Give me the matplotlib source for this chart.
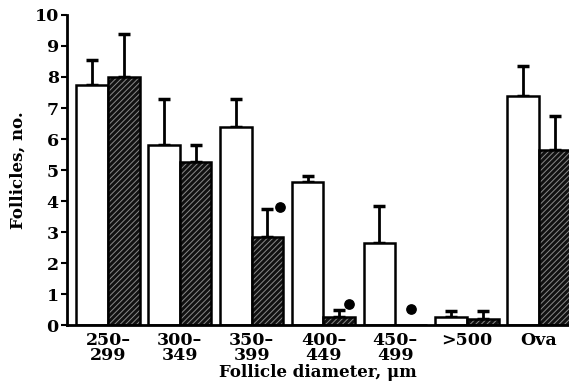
import matplotlib
matplotlib.use("Agg")
import matplotlib.pyplot as plt
import numpy as np

categories = ["250–\n299", "300–\n349", "350–\n399", "400–\n449", "450–\n499", ">500", "Ova"]
control = [7.75, 5.8, 6.4, 4.6, 2.65, 0.25, 7.4]
control_err = [0.8, 1.5, 0.9, 0.2, 1.2, 0.2, 0.95]
treated = [8.0, 5.25, 2.85, 0.25, 0.0, 0.2, 5.65]
treated_err = [1.4, 0.55, 0.9, 0.25, 0.0, 0.25, 1.1]
# significance dots (group index, height)
sig_groups = [2, 3, 4]
sig_heights = [3.8, 0.68, 0.52]

plt.rcParams["font.family"] = ["DejaVu Serif"]
plt.rcParams["font.weight"] = "bold"
plt.rcParams["hatch.linewidth"] = 0.7

fig = plt.figure(figsize=(5.69, 3.83), dpi=100)
ax = fig.add_axes([0.118, 0.151, 0.882, 0.810])

x = np.arange(len(categories))
w = 0.44

ax.bar(x - w / 2, control, w, color="white", edgecolor="black", linewidth=1.8, zorder=2)
ax.bar(x + w / 2, treated, w, color="#111111", edgecolor="#8a8a8a", hatch="//////",
       linewidth=0, zorder=2)
ax.bar(x + w / 2, treated, w, color="none", edgecolor="black", linewidth=1.8, zorder=3)

ax.errorbar(x - w / 2, control, yerr=[np.zeros(len(x)), control_err], fmt="none",
            ecolor="black", elinewidth=2, capsize=4, capthick=2.5, zorder=1)
has_err = np.array(treated_err) > 0
ax.errorbar((x + w / 2)[has_err], np.array(treated)[has_err],
            yerr=[np.zeros(has_err.sum()), np.array(treated_err)[has_err]], fmt="none",
            ecolor="black", elinewidth=2, capsize=4, capthick=2.5, zorder=1)

offsets = [0.17, 0.14, 0.0]
ax.scatter(np.array(sig_groups) + w / 2 + np.array(offsets), sig_heights, s=45,
           color="black", zorder=4)

ax.set_xlim(-0.57, 6.42)
ax.set_ylim(0, 10)
ax.set_yticks(range(11))
ax.set_xticks(x)
ax.set_xticklabels(categories, fontsize=12.5, fontweight="bold", linespacing=0.8)
ax.tick_params(axis="x", length=0, pad=5)
ax.tick_params(axis="y", length=4, width=1.5, labelsize=12.5, pad=2)
for lab in ax.get_yticklabels():
    lab.set_fontweight("bold")

ax.spines["top"].set_visible(False)
ax.spines["right"].set_visible(False)
ax.spines["left"].set_linewidth(2)
ax.spines["bottom"].set_linewidth(2)

ax.set_ylabel("Follicles, no.", fontsize=12, fontweight="bold", labelpad=6)
ax.set_xlabel("Follicle diameter, μm", fontsize=12, fontweight="bold", labelpad=0)

fig.savefig("out.png", dpi=100)
